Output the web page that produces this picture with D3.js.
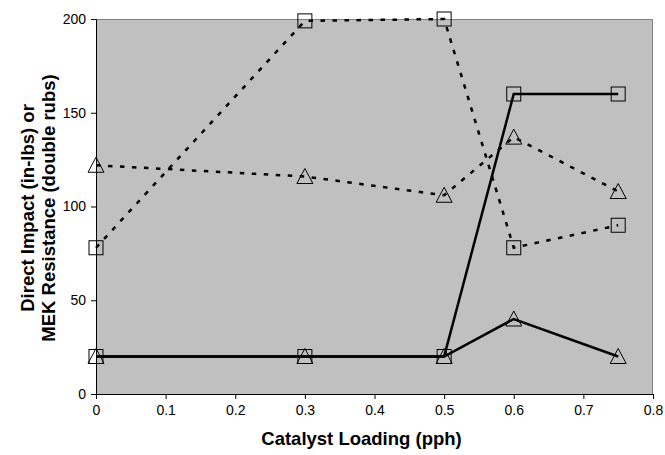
<!DOCTYPE html>
<html>
<head>
<meta charset="utf-8">
<script src="https://cdn.jsdelivr.net/npm/d3@7"></script>
<style>
  html, body { margin: 0; padding: 0; background: #ffffff; }
  svg { display: block; font-family: "Liberation Sans", Arial, sans-serif; }
</style>
</head>
<body>
<svg id="chart" width="665" height="455"></svg>
<script>
// ---- data ----
const loadings = [0, 0.3, 0.5, 0.6, 0.75];
const impactSolidSquare = [20, 20, 20, 160, 160];
const impactSolidTriangle = [20, 20, 20, 40, 20];
const mekDottedSquare = [78, 199, 200, 78, 90];
const mekDottedTriangle = [122, 116, 106, 137, 108];
const xTicks = [0, 0.1, 0.2, 0.3, 0.4, 0.5, 0.6, 0.7, 0.8];
const yTicks = [0, 50, 100, 150, 200];
const xTitle = "Catalyst Loading (pph)";
const yTitleLines = ["Direct Impact (in-lbs) or", "MEK Resistance (double rubs)"];

const series = [
  { values: impactSolidSquare, dashed: false, marker: "square" },
  { values: impactSolidTriangle, dashed: false, marker: "triangle" },
  { values: mekDottedSquare, dashed: true, marker: "square" },
  { values: mekDottedTriangle, dashed: true, marker: "triangle" }
];

// ---- layout ----
const svg = d3.select("#chart");
const L = 96, R = 653, T = 19, B = 394;

const x = d3.scaleLinear().domain([0, 0.8]).range([L, R]);
const y = d3.scaleLinear().domain([0, 200]).range([B, T]);

// plot area
svg.append("rect")
  .attr("x", L).attr("y", T).attr("width", R - L).attr("height", B - T)
  .attr("fill", "#c0c0c0");
// top and right border gray
svg.append("path")
  .attr("d", `M${L},${T + 0.5}H${R - 0.5}V${B}`)
  .attr("fill", "none").attr("stroke", "#808080").attr("stroke-width", 1);

// axes
const xAxis = d3.axisBottom(x).tickValues(xTicks).tickSize(5).tickPadding(6)
  .tickFormat(d => d === 0 ? "0" : d3.format(".1f")(d));
const gx = svg.append("g").attr("transform", `translate(0,${B})`).call(xAxis);
const yAxis = d3.axisLeft(y).tickValues(yTicks).tickSize(5).tickPadding(5);
const gy = svg.append("g").attr("transform", `translate(${L},0)`).call(yAxis);

[gx, gy].forEach(g => {
  g.selectAll("path.domain").attr("stroke", "#000").attr("stroke-width", 1);
  g.selectAll(".tick line").attr("stroke", "#000");
  g.selectAll(".tick text")
    .attr("font-family", "'Liberation Sans', Arial, sans-serif")
    .attr("font-size", 14).attr("fill", "#000");
});

// lines
const line = d3.line().x(d => x(d[0])).y(d => y(d[1]));
series.forEach(s => {
  const pts = loadings.map((l, i) => [l, s.values[i]]);
  svg.append("path")
    .datum(pts)
    .attr("d", line)
    .attr("fill", "none")
    .attr("stroke", "#000")
    .attr("stroke-width", 2.5)
    .attr("stroke-dasharray", s.dashed ? "4.5,7.5" : null);
});

// markers
series.forEach(s => {
  const pts = loadings.map((l, i) => [l, s.values[i]]);
  const g = svg.append("g");
  pts.forEach(p => {
    const cx = x(p[0]), cy = y(p[1]);
    if (s.marker === "square") {
      g.append("rect")
        .attr("x", cx - 7).attr("y", cy - 7).attr("width", 14).attr("height", 14)
        .attr("fill", "none").attr("stroke", "#000").attr("stroke-width", 1);
    } else {
      g.append("path")
        .attr("d", `M${cx},${cy - 8}L${cx + 8},${cy + 7}L${cx - 8},${cy + 7}Z`)
        .attr("fill", "none").attr("stroke", "#000").attr("stroke-width", 1);
    }
  });
});

// titles
svg.append("text")
  .attr("x", (L + R) / 2 - 13).attr("y", 445)
  .attr("text-anchor", "middle")
  .attr("font-weight", "bold").attr("font-size", 18.5)
  .text(xTitle);

const yt = svg.append("text")
  .attr("transform", `translate(34,208) rotate(-90)`)
  .attr("text-anchor", "middle")
  .attr("font-weight", "bold").attr("font-size", 18.5);
yTitleLines.forEach((t, i) => {
  yt.append("tspan").attr("x", 0).attr("dy", i === 0 ? 0 : 21).text(t);
});
</script>
</body>
</html>
